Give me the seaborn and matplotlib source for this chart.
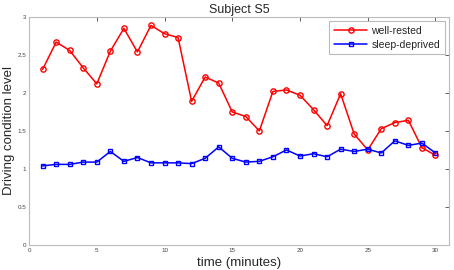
import matplotlib
matplotlib.use("Agg")
import matplotlib.pyplot as plt
import seaborn as sns
import pandas as pd

minutes = list(range(1, 31))
well_rested = [2.31, 2.67, 2.56, 2.33, 2.12, 2.55, 2.85, 2.54, 2.89, 2.78,
               2.73, 1.89, 2.21, 2.13, 1.75, 1.69, 1.50, 2.02, 2.04, 1.97,
               1.78, 1.57, 1.99, 1.46, 1.25, 1.53, 1.61, 1.64, 1.28, 1.18]
sleep_deprived = [1.04, 1.06, 1.06, 1.09, 1.09, 1.23, 1.10, 1.15, 1.08, 1.08,
                  1.08, 1.07, 1.14, 1.29, 1.14, 1.09, 1.10, 1.16, 1.25, 1.17,
                  1.20, 1.16, 1.26, 1.23, 1.26, 1.21, 1.37, 1.31, 1.34, 1.21]
x_ticks = [0, 5, 10, 15, 20, 25, 30]
y_ticks = [0, 0.5, 1, 1.5, 2, 2.5, 3]

df_w = pd.DataFrame({"time": minutes, "level": well_rested})
df_s = pd.DataFrame({"time": minutes, "level": sleep_deprived})

sns.set_style("white")
plt.rcParams['font.family'] = ['Liberation Sans', 'DejaVu Sans']

fig = plt.figure(figsize=(4.54, 2.70), dpi=100)
ax = fig.add_axes([0.064, 0.093, 0.925, 0.844])

sns.lineplot(data=df_w, x="time", y="level", ax=ax, color="#ff0000",
             marker="o", markersize=3.8, markerfacecolor="none",
             markeredgecolor="#ff0000", markeredgewidth=1.0, linewidth=1.1,
             label="well-rested")
sns.lineplot(data=df_s, x="time", y="level", ax=ax, color="#0000ff",
             marker="s", markersize=3.5, markerfacecolor="none",
             markeredgecolor="#0000ff", markeredgewidth=1.0, linewidth=1.1,
             label="sleep-deprived")

ax.set_xlim(0, 31)
ax.set_ylim(0, 3)
ax.set_xticks(x_ticks)
ax.set_yticks(y_ticks)
ax.set_xticklabels([str(t) for t in x_ticks])
ax.set_yticklabels([f"{t:g}" for t in y_ticks])
ax.tick_params(axis="both", direction="in", length=3, width=0.6,
               labelsize=4.5, colors="#444444", top=True, right=True, pad=2)
for s in ax.spines.values():
    s.set_color("#bbbbbb")
    s.set_linewidth(0.8)

ax.set_xlabel("time (minutes)", fontsize=9.5, labelpad=3)
ax.set_ylabel("Driving condition level", fontsize=9.5, labelpad=2)
ax.set_title("Subject S5", fontsize=9, pad=3)

leg = ax.legend(loc="upper right", fontsize=7.5, frameon=True, fancybox=False,
                borderaxespad=0.4, handlelength=3.2, labelspacing=0.35,
                borderpad=0.45, handletextpad=0.4)
leg.get_frame().set_edgecolor("#aaaaaa")
leg.get_frame().set_linewidth(0.8)

fig.savefig("out.png", dpi=100)
